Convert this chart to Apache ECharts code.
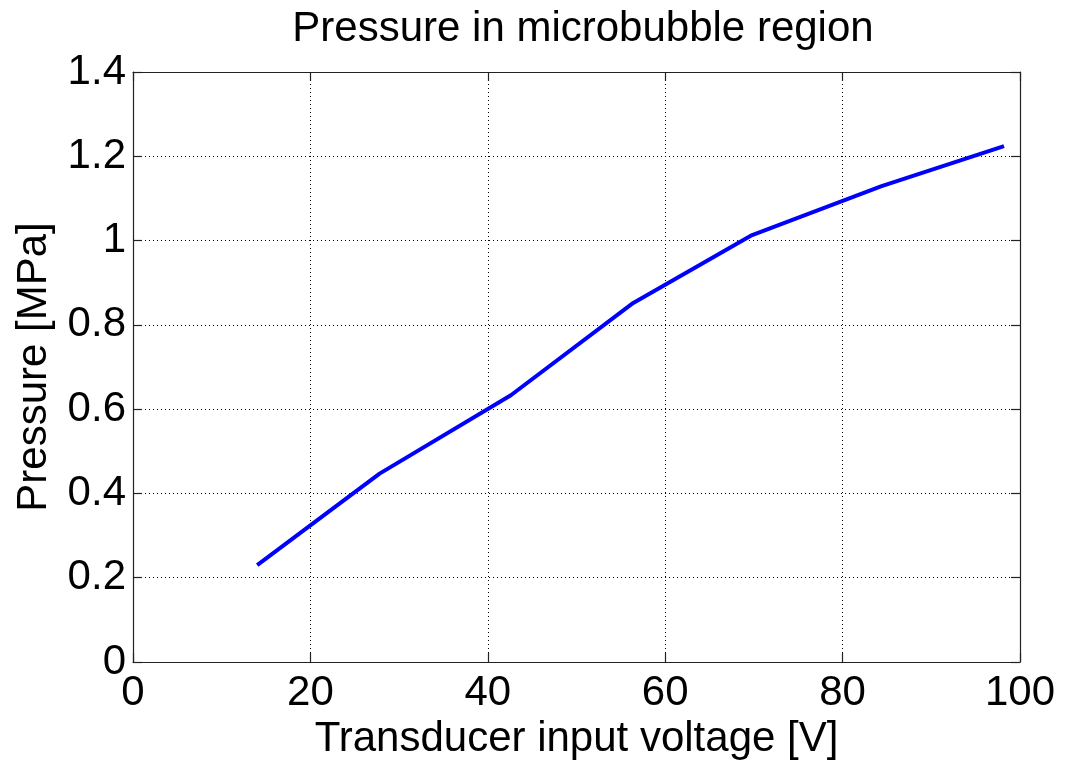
<!DOCTYPE html>
<html>
<head>
<meta charset="utf-8">
<script src="https://cdn.jsdelivr.net/npm/echarts@6/dist/echarts.min.js"></script>
<style>
html,body{margin:0;padding:0;background:#fff;}
#chart{width:1068px;height:769px;}
</style>
</head>
<body>
<div id="chart"></div>
<script>
const voltage = [14, 27.8, 42.6, 56.4, 69.8, 84.4, 98.2];
const pressure = [0.23, 0.447, 0.633, 0.852, 1.013, 1.129, 1.224];
const titleText = 'Pressure in microbubble region';
const xName = 'Transducer input voltage [V]';
const yName = 'Pressure [MPa]';

const FONT = '"Liberation Sans", Arial, sans-serif';
const chart = echarts.init(document.getElementById('chart'), null, {renderer: 'canvas'});

const gridLine = {show: true, lineStyle: {color: '#000', width: 1, type: [1, 3]}};
const frameLine = {show: true, onZero: false, lineStyle: {color: '#222', width: 1.2}};
const tickStyle = {show: true, inside: true, length: 9, lineStyle: {color: '#222', width: 1.2}};

chart.setOption({
  animation: false,
  backgroundColor: '#fff',
  title: {
    text: titleText,
    left: 578,
    textAlign: 'center',
    top: 3,
    textStyle: {fontFamily: FONT, fontSize: 42, fontWeight: 'normal', color: '#000'}
  },
  grid: {left: 133, top: 72, right: 48, bottom: 107, containLabel: false},
  xAxis: [
    {
      type: 'value', min: 0, max: 100, interval: 20, position: 'bottom',
      name: xName, nameLocation: 'middle', nameGap: 52,
      nameTextStyle: {fontFamily: FONT, fontSize: 42, color: '#000'},
      axisLine: frameLine, axisTick: tickStyle, splitLine: gridLine,
      axisLabel: {fontFamily: FONT, fontSize: 42, color: '#000', margin: 10}
    },
    {
      type: 'value', min: 0, max: 100, interval: 20, position: 'top',
      axisLine: frameLine, axisTick: tickStyle, splitLine: {show: false},
      axisLabel: {show: false}
    }
  ],
  yAxis: [
    {
      type: 'value', min: 0, max: 1.4, interval: 0.2, position: 'left',
      name: yName, nameLocation: 'middle', nameGap: 78,
      nameTextStyle: {fontFamily: FONT, fontSize: 42, color: '#000'},
      axisLine: frameLine, axisTick: tickStyle, splitLine: gridLine,
      axisLabel: {fontFamily: FONT, fontSize: 42, color: '#000', margin: 7,
        formatter: v => String(Math.round(v * 10) / 10)}
    },
    {
      type: 'value', min: 0, max: 1.4, interval: 0.2, position: 'right',
      axisLine: frameLine, axisTick: tickStyle, splitLine: {show: false},
      axisLabel: {show: false}
    }
  ],
  series: [{
    type: 'line',
    data: voltage.map((v, i) => [v, pressure[i]]),
    showSymbol: false,
    symbol: 'none',
    lineStyle: {color: '#0000ff', width: 4},
    xAxisIndex: 0, yAxisIndex: 0
  }]
});
</script>
</body>
</html>
